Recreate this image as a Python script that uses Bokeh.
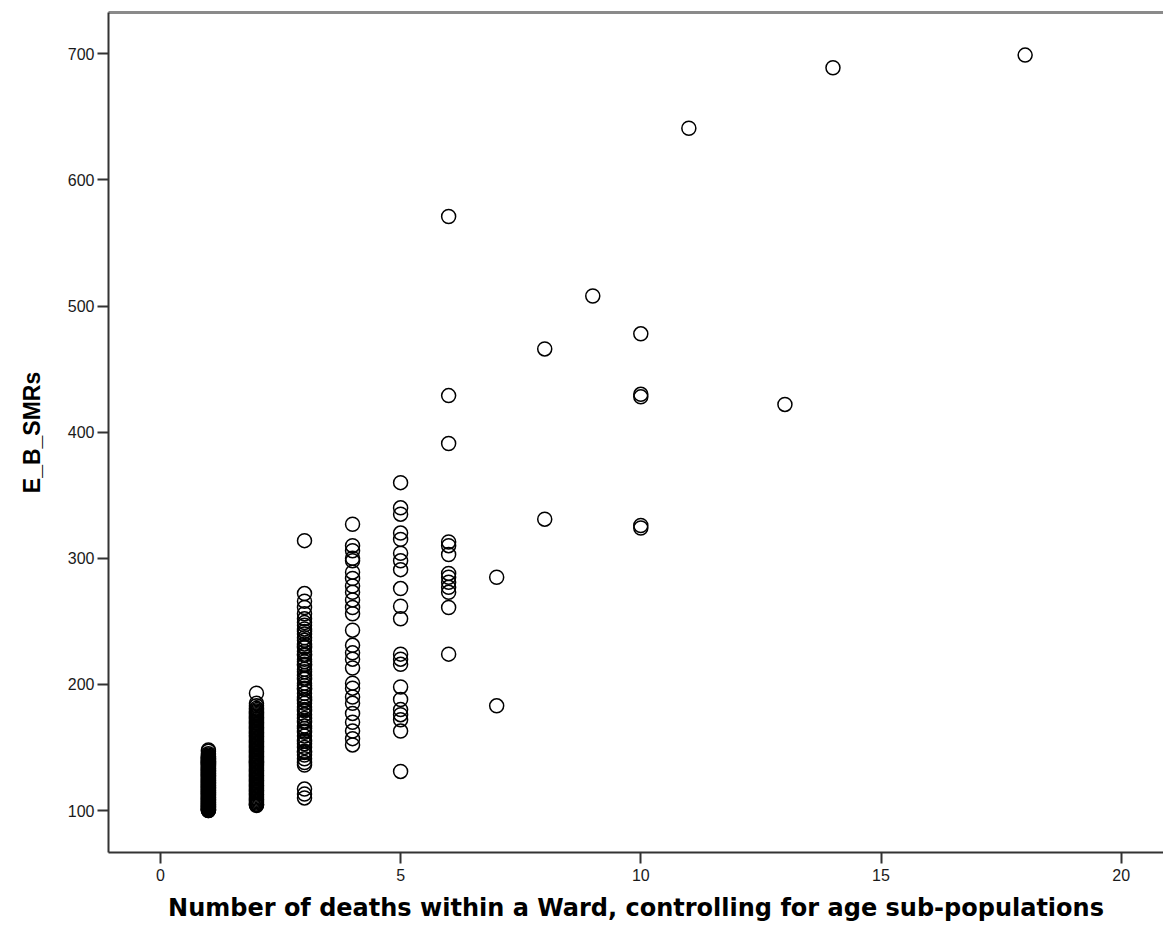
from bokeh.plotting import figure
from bokeh.models import ColumnDataSource, LinearAxis, FixedTicker
from bokeh.embed import file_html
from bokeh.resources import INLINE

# E_B_SMRs per ward, grouped by number of deaths
smr_1 = [100, 100, 100.5, 101, 101, 101.5, 102, 102.5, 103, 103, 103.5, 104, 104.5, 105, 105.5, 106,
         106.5, 107, 107.5, 108, 108.5, 109, 109.5, 110, 110.5, 111, 111.5, 112, 112.5, 113, 113.5,
         114, 114.5, 115, 115.5, 116, 116.5, 117, 117.5, 118, 118.5, 119, 119.5, 120, 120.5, 121,
         121.5, 122, 122.5, 123, 123.5, 124, 124.5, 125, 125.5, 126, 126.5, 127, 127.5, 128, 128.5,
         129, 129.5, 130, 130.5, 131, 131.5, 132, 132.5, 133, 133.5, 134, 134.5, 135, 135.5, 136,
         136.5, 137, 137.5, 138, 138.5, 139, 139.5, 140, 140.5, 141, 141.5, 142, 142.5, 143, 144,
         145, 147, 148]
smr_2 = [104, 104.5, 105, 106, 107, 108, 109, 110, 111, 112, 113, 114, 115, 116, 117, 118, 119, 120,
         121, 122, 123, 124, 125, 126, 127, 128, 129, 130, 131, 132, 133, 134, 135, 136, 137, 138,
         139, 140, 141, 142, 143, 144, 145, 146, 147, 148, 149, 150, 151, 152, 153, 154, 155, 156,
         157, 158, 159, 160, 161, 162, 163, 164, 165, 166, 167, 168, 169, 170, 171, 172, 173, 174,
         175, 176, 177, 178, 179, 180, 181, 183, 185, 193]
smr_3 = [314, 272, 266, 261, 256, 252, 249, 247, 244, 242, 240, 237, 235, 232, 230, 229, 226, 224,
         223, 220, 218, 216, 215, 212, 210, 207, 205, 204, 201, 199, 197, 196, 193, 190, 188, 187,
         185, 182, 180, 179, 176, 173, 171, 170, 167, 165, 163, 162, 159, 156, 155, 153, 150, 147,
         146, 144, 141, 138, 136, 117, 113, 110]
smr_4 = [327, 310, 306, 300, 298, 289, 284, 278, 273, 267, 261, 256, 243, 231, 225, 220, 213, 201, 197,
         190, 185, 177, 170, 163, 157, 152]
smr_5 = [360, 340, 335, 320, 315, 304, 298, 291, 276, 262, 252, 224, 220, 216, 198, 188, 180, 176, 172,
         163, 131]
smr_6 = [571, 429, 391, 313, 310, 303, 288, 285, 281, 277, 273, 261, 224]
smr_7 = [285, 183]
smr_8 = [466, 331]
smr_9 = [508]
smr_10 = [478, 430, 428, 326, 324]
smr_11 = [641]
smr_13 = [422]
smr_14 = [689]
smr_18 = [699]

grupos = [(1, smr_1), (2, smr_2), (3, smr_3), (4, smr_4), (5, smr_5), (6, smr_6), (7, smr_7),
          (8, smr_8), (9, smr_9), (10, smr_10), (11, smr_11), (13, smr_13), (14, smr_14), (18, smr_18)]

mortes = []
smrs = []
for n, valores in grupos:
    mortes += [n] * len(valores)
    smrs += valores

dados = ColumnDataSource(data=dict(mortes=mortes, smrs=smrs))

x_ticks = [0, 5, 10, 15, 20]
y_ticks = [100, 200, 300, 400, 500, 600, 700]

grafico = figure(width=1163, height=930, x_range=(-1.08, 20.88), y_range=(66.7, 732.8),
                 output_backend="svg", toolbar_location=None, tools="")
grafico.min_border_left = 108
grafico.min_border_right = 0
grafico.min_border_top = 12
grafico.min_border_bottom = 78
grafico.outline_line_color = None
grafico.grid.grid_line_color = None
grafico.background_fill_color = "white"

grafico.scatter(x="mortes", y="smrs", source=dados, size=14, fill_color=None,
                line_color="black", line_width=1.5)

eixo_x = grafico.below[0]
eixo_y = grafico.left[0]

# gray line on top of the frame
topo = LinearAxis(ticker=FixedTicker(ticks=[]), axis_line_color="#8a8a8a", axis_line_width=3,
                  major_tick_line_color=None, minor_tick_line_color=None,
                  major_label_text_font_size="0px")
grafico.add_layout(topo, "above")

eixo_x.ticker = FixedTicker(ticks=x_ticks)
eixo_y.ticker = FixedTicker(ticks=y_ticks)

for eixo in [eixo_x, eixo_y]:
    eixo.axis_line_color = "#333333"
    eixo.axis_line_width = 2
    eixo.major_tick_line_color = "#333333"
    eixo.major_tick_line_width = 2
    eixo.major_tick_out = 11
    eixo.major_tick_in = 0
    eixo.minor_tick_line_color = None
    eixo.major_label_text_font = "Liberation Sans"
    eixo.major_label_text_font_size = "16px"
    eixo.major_label_text_color = "#1a1a1a"

eixo_x.major_label_standoff = 5
eixo_y.major_label_standoff = 3

eixo_x.axis_label = "Number of deaths within a Ward, controlling for age sub-populations"
eixo_x.axis_label_text_font = "DejaVu Sans"
eixo_x.axis_label_text_font_style = "bold"
eixo_x.axis_label_text_font_size = "24px"
eixo_x.axis_label_text_color = "black"
eixo_x.axis_label_standoff = 10

eixo_y.axis_label = "E_B_SMRs"
eixo_y.axis_label_text_font = "Liberation Sans"
eixo_y.axis_label_text_font_style = "bold"
eixo_y.axis_label_text_font_size = "23px"
eixo_y.axis_label_text_color = "black"
eixo_y.axis_label_standoff = 20

open("out.html", "w").write(file_html(grafico, INLINE))
